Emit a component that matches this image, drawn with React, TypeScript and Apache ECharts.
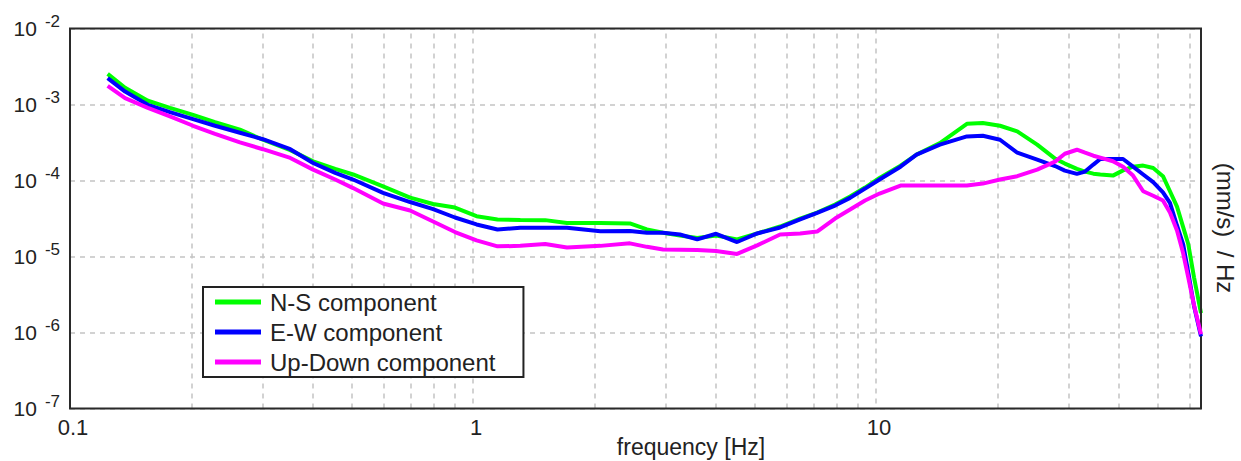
import React, { useEffect, useRef } from "react";
import * as echarts from "echarts";

// frequency [Hz]
const frequencies = [
  0.124, 0.137, 0.156, 0.177, 0.202, 0.229, 0.264, 0.301, 0.352, 0.401, 0.455, 0.504,
  0.598, 0.698, 0.796, 0.902, 1.02, 1.15, 1.31, 1.51, 1.71, 2.07, 2.45, 2.7, 2.96, 3.26,
  3.6, 4.01, 4.52, 5.07, 5.78, 6.48, 7.14, 7.91, 8.62, 9.39, 10.2, 11.5, 12.6, 14.4,
  16.8, 18.4, 20.3, 22.4, 25.1, 27.8, 29.4, 31.5, 33.0, 34.6, 36.0, 38.7, 41.0, 43.4,
  46.0, 48.7, 51.5, 53.6, 55.8, 57.8, 59.5, 61.5, 64,
];

const nsComponent = [
  2.53e-3, 1.66e-3, 1.12e-3, 9.05e-4, 7.32e-4, 5.87e-4, 4.66e-4, 3.44e-4, 2.51e-4, 1.79e-4, 1.42e-4, 1.2e-4,
  8.39e-5, 5.96e-5, 4.9e-5, 4.41e-5, 3.39e-5, 3.07e-5, 3.02e-5, 3.01e-5, 2.76e-5, 2.75e-5, 2.72e-5, 2.27e-5, 2.05e-5, 1.89e-5,
  1.75e-5, 1.89e-5, 1.68e-5, 2.01e-5, 2.48e-5, 3.16e-5, 3.79e-5, 4.83e-5, 6.15e-5, 8.07e-5, 1.08e-4, 1.57e-4, 2.19e-4, 3.11e-4,
  5.58e-4, 5.7e-4, 5.25e-4, 4.42e-4, 2.96e-4, 1.94e-4, 1.67e-4, 1.42e-4, 1.31e-4, 1.23e-4, 1.2e-4, 1.16e-4, 1.36e-4, 1.52e-4,
  1.57e-4, 1.46e-4, 1.14e-4, 7.22e-5, 4.54e-5, 2.43e-5, 1.46e-5, 5.32e-6, 1.8e-6,
];

const ewComponent = [
  2.22e-3, 1.48e-3, 9.91e-4, 7.95e-4, 6.43e-4, 5.25e-4, 4.25e-4, 3.49e-4, 2.58e-4, 1.7e-4, 1.26e-4, 1.03e-4,
  6.88e-5, 5.21e-5, 4.19e-5, 3.26e-5, 2.64e-5, 2.27e-5, 2.39e-5, 2.39e-5, 2.39e-5, 2.15e-5, 2.16e-5, 2.05e-5, 2.05e-5, 1.95e-5,
  1.68e-5, 1.99e-5, 1.55e-5, 2.01e-5, 2.41e-5, 3.07e-5, 3.76e-5, 4.68e-5, 5.91e-5, 7.83e-5, 1.03e-4, 1.52e-4, 2.19e-4, 2.96e-4,
  3.8e-4, 3.88e-4, 3.44e-4, 2.32e-4, 1.88e-4, 1.55e-4, 1.35e-4, 1.22e-4, 1.31e-4, 1.62e-4, 1.92e-4, 1.92e-4, 1.92e-4, 1.52e-4,
  1.2e-4, 9.5e-5, 7.0e-5, 5.08e-5, 2.56e-5, 1.44e-5, 6.18e-6, 2.23e-6, 8.9e-7,
];

const udComponent = [
  1.76e-3, 1.21e-3, 9.05e-4, 6.96e-4, 5.25e-4, 4.12e-4, 3.17e-4, 2.58e-4, 1.98e-4, 1.39e-4, 1.03e-4, 7.95e-5,
  4.98e-5, 4.03e-5, 2.89e-5, 2.1e-5, 1.63e-5, 1.36e-5, 1.38e-5, 1.46e-5, 1.31e-5, 1.38e-5, 1.49e-5, 1.34e-5, 1.24e-5, 1.23e-5,
  1.22e-5, 1.18e-5, 1.08e-5, 1.4e-5, 1.95e-5, 2.01e-5, 2.13e-5, 3.16e-5, 4.15e-5, 5.45e-5, 6.73e-5, 8.57e-5, 8.57e-5, 8.57e-5,
  8.57e-5, 9.11e-5, 1.03e-4, 1.14e-4, 1.39e-4, 1.77e-4, 2.25e-4, 2.54e-4, 2.32e-4, 2.12e-4, 2.0e-4, 1.79e-4, 1.52e-4, 1.16e-4,
  7.22e-5, 6.3e-5, 5.45e-5, 3.79e-5, 2.2e-5, 1.1e-5, 5.32e-6, 2.28e-6, 9.5e-7,
];

const seriesNames = ["N-S component", "E-W component", "Up-Down component"];
const seriesColors = ["#00ff00", "#0000ff", "#ff00ff"];

// minor vertical grid lines (2..9 of each decade)
const minorGridFreqs = [
  0.2, 0.3, 0.4, 0.5, 0.6, 0.7, 0.8, 0.9,
  2, 3, 4, 5, 6, 7, 8, 9,
  20, 30, 40, 50, 60,
];

const xRange = [0.1, 64];
const yRange = [1e-7, 1e-2];
const xAxisTitle = "frequency [Hz]";
const yAxisTitle = "(mm/s)  / Hz";

const FONT = "'Liberation Sans', Arial, sans-serif";
const TEXT_COLOR = "#222";

export default function App() {
  const ref = useRef<HTMLDivElement>(null);

  useEffect(() => {
    if (!ref.current) return;
    const chart = echarts.init(ref.current, null, { renderer: "svg" });
    const gridLine = { color: "#c4c4c4", width: 1.5, type: [5, 5] as any };
    const seriesData = [nsComponent, ewComponent, udComponent];

    const option: any = {
      animation: false,
      backgroundColor: "#ffffff",
      grid: {
        left: 70,
        right: 40,
        top: 28.5,
        bottom: 52.5,
        show: true,
        borderColor: "#2a2a2a",
        borderWidth: 2,
        backgroundColor: "transparent",
        z: 3,
      },
      xAxis: {
        type: "log",
        logBase: 10,
        min: xRange[0],
        max: xRange[1],
        axisLine: { show: false },
        axisTick: { show: false },
        splitLine: { show: true, lineStyle: gridLine },
        axisLabel: {
          fontFamily: FONT,
          fontSize: 22,
          color: TEXT_COLOR,
          margin: 8,
          showMaxLabel: false,
          padding: [0, 0, 0, 6],
          formatter: (v: number) => (v < 1 ? v.toFixed(1) : String(Math.round(v))),
        },
      },
      yAxis: {
        type: "log",
        logBase: 10,
        min: yRange[0],
        max: yRange[1],
        axisLine: { show: false },
        axisTick: { show: false },
        splitLine: { show: true, lineStyle: gridLine },
        axisLabel: {
          fontFamily: FONT,
          fontSize: 20,
          color: TEXT_COLOR,
          margin: 10,
          formatter: (v: number) => `{b|10}{s|${Math.round(Math.log10(v))}}`,
          rich: {
            b: { fontFamily: FONT, fontSize: 21, color: TEXT_COLOR },
            s: { fontFamily: FONT, fontSize: 17, color: TEXT_COLOR, padding: [0, 0, 14, 8] },
          },
        },
      },
      legend: {
        data: seriesNames,
        orient: "vertical",
        left: 203,
        top: 287,
        icon: "rect",
        itemWidth: 46,
        itemHeight: 5,
        itemGap: 6,
        padding: [3, 28, 3, 12],
        borderColor: "#222",
        borderWidth: 2,
        backgroundColor: "#ffffff",
        selectedMode: false,
        textStyle: { fontFamily: FONT, fontSize: 24, color: TEXT_COLOR, padding: [0, 0, 0, 4] },
      },
      graphic: [
        {
          type: "text",
          x: 691,
          y: 447,
          style: {
            text: xAxisTitle,
            font: `23px ${FONT}`,
            fill: TEXT_COLOR,
            align: "center",
            verticalAlign: "middle",
          },
        },
        {
          type: "text",
          x: 1225,
          y: 228,
          rotation: -Math.PI / 2,
          style: {
            text: yAxisTitle,
            font: `24px ${FONT}`,
            fill: TEXT_COLOR,
            align: "center",
            verticalAlign: "middle",
          },
        },
      ],
      series: [
        {
          type: "line",
          data: [],
          z: 1,
          silent: true,
          markLine: {
            silent: true,
            symbol: "none",
            z: 1,
            label: { show: false },
            emphasis: { disabled: true },
            lineStyle: gridLine,
            data: minorGridFreqs.map((f) => ({ xAxis: f })),
          },
        },
        ...seriesNames.map((name, i) => ({
          name,
          type: "line",
          z: 2 + i,
          showSymbol: false,
          symbol: "none",
          color: seriesColors[i],
          lineStyle: { color: seriesColors[i], width: 4 },
          data: frequencies.map((f, k) => [f, seriesData[i][k]]),
        })),
      ],
    };

    chart.setOption(option);
    return () => chart.dispose();
  }, []);

  return (
    <div
      ref={ref}
      style={{ position: "fixed", left: 0, top: 0, width: "1241px", height: "461px", background: "#fff" }}
    />
  );
}
